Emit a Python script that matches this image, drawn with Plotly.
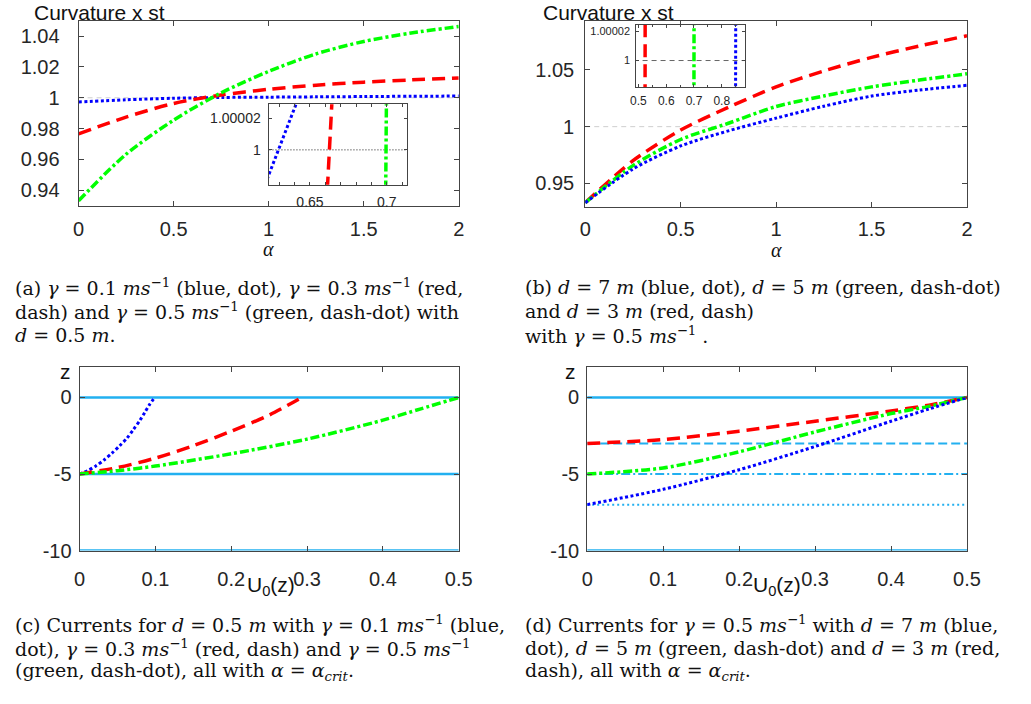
import plotly.graph_objects as go

W, H = 1031, 704

# ---------------- data ----------------
alpha = [0, 0.25, 0.5, 0.75, 1.0, 1.25, 1.5, 1.75, 2.0]
# panel (a): d = 0.5 m
a_blue = [0.9973, 0.9987, 0.9997, 1.0002, 1.0004, 1.0006, 1.0008, 1.0010, 1.0011]
a_red = [0.9766, 0.9875, 0.9963, 1.0018, 1.0055, 1.0082, 1.0101, 1.0116, 1.0128]
a_green = [0.9332, 0.9634, 0.9855, 1.0032, 1.0171, 1.0285, 1.0365, 1.0420, 1.0462]
# panel (b): gamma = 0.5
b_blue = [0.933, 0.9627, 0.9830, 0.9963, 1.0075, 1.0180, 1.0269, 1.0322, 1.0364]
b_green = [0.933, 0.9657, 0.9887, 1.0030, 1.0177, 1.0270, 1.0350, 1.0410, 1.0465]
b_red = [0.933, 0.9700, 0.9970, 1.0170, 1.0350, 1.0490, 1.0610, 1.0710, 1.0800]

# inset (a) zoom near the crossing of 1
ia_blue_x = [0.6195, 0.6430]
ia_blue_y = [0.999975, 1.000034]
ia_red_x = [0.6613, 0.6645]
ia_red_y = [0.999975, 1.000034]
ia_green_x = [0.6993, 0.6998]
ia_green_y = [0.999975, 1.000034]
# inset (b)
ib_red_x = [0.5238, 0.5242]
ib_green_x = [0.6998, 0.7002]
ib_blue_x = [0.8497, 0.8503]
ib_y = [0.999975, 1.000030]

# panel (c): currents, d = 0.5 m
c_blue_u = [0, 0.0108, 0.0215, 0.0323, 0.0431, 0.053, 0.0625, 0.0711, 0.0797, 0.0862, 0.0927, 0.0992]
c_blue_z = [-5, -4.78, -4.47, -4.08, -3.62, -3.15, -2.66, -2.09, -1.49, -0.96, -0.43, 0]
c_red_u = [0, 0.05, 0.1, 0.15, 0.2, 0.25, 0.293]
c_red_z = [-5, -4.58, -3.96, -3.15, -2.2, -1.15, 0]
c_green_u = [0, 0.05, 0.1, 0.2, 0.3, 0.4, 0.45, 0.5]
c_green_z = [-5, -4.78, -4.48, -3.68, -2.72, -1.48, -0.74, 0]
c_levels = [0, -5, -10]

# panel (d): currents, gamma = 0.5
d_u = [0, 0.1, 0.2, 0.3, 0.4, 0.45, 0.5]
d_red_z = [-3, -2.75, -2.2, -1.55, -0.88, -0.5, 0]
d_green_z = [-5, -4.6, -3.55, -2.25, -1.05, -0.58, 0]
d_blue_z = [-7, -6.0, -4.72, -3.2, -1.55, -0.75, 0]
d_solid_levels = [0, -10]
d_red_level = -3
d_green_level = -5
d_blue_level = -7

# ---------------- styles ----------------
BLUE = dict(color='#0000FF', width=3, dash='3px,2.5px')
RED = dict(color='#FF0000', width=3.5, dash='13px,7px')
GREEN = dict(color='#00FF00', width=3.5, dash='9px,3px,3px,3px')
LB = '#22B0F0'
AXC = '#444444'
TXT = '#262626'
SANS = 'Liberation Sans, Arial, sans-serif'
SERIF = 'Liberation Serif, Times New Roman, serif'
CAPF = 'DejaVu Serif, serif'


def dx(a, b):
    return [a / W, b / W]


def dy(top, bottom):
    return [1 - bottom / H, 1 - top / H]


fig = go.Figure()


def add(x, y, line, xa, ya, spline=True):
    fig.add_trace(go.Scatter(x=x, y=y, mode='lines', line=dict(line, shape='spline' if spline else 'linear', smoothing=0.8),
                             xaxis=xa, yaxis=ya, showlegend=False, hoverinfo='skip'))


# panel (a)
add([0, 2], [1, 1], dict(color='#cfcfcf', width=1, dash='5px,4px'), 'x', 'y', False)
add(alpha, a_blue, BLUE, 'x', 'y')
add(alpha, a_red, RED, 'x', 'y')
add(alpha, a_green, GREEN, 'x', 'y')
# panel (b)
add([0, 2], [1, 1], dict(color='#cfcfcf', width=1, dash='5px,4px'), 'x2', 'y2', False)
add(alpha, b_red, RED, 'x2', 'y2')
add(alpha, b_green, GREEN, 'x2', 'y2')
add(alpha, b_blue, BLUE, 'x2', 'y2')
# panel (c)
for lv in c_levels:
    add([0, 0.5], [lv, lv], dict(color=LB, width=2.5), 'x3', 'y3', False)
add(c_blue_u, c_blue_z, BLUE, 'x3', 'y3')
add(c_red_u, c_red_z, RED, 'x3', 'y3')
add(c_green_u, c_green_z, GREEN, 'x3', 'y3')
# panel (d)
for lv in d_solid_levels:
    add([0, 0.5], [lv, lv], dict(color=LB, width=2.5), 'x4', 'y4', False)
add([0, 0.5], [d_red_level] * 2, dict(color=LB, width=2, dash='9px,4px'), 'x4', 'y4', False)
add([0, 0.5], [d_green_level] * 2, dict(color=LB, width=2, dash='9px,3px,2px,3px'), 'x4', 'y4', False)
add([0, 0.5], [d_blue_level] * 2, dict(color=LB, width=2, dash='2px,3px'), 'x4', 'y4', False)
add(d_u, d_red_z, RED, 'x4', 'y4')
add(d_u, d_green_z, GREEN, 'x4', 'y4')
add(d_u, d_blue_z, BLUE, 'x4', 'y4')
# inset (a)
add([0.6, 0.72], [1, 1], dict(color='#666666', width=1, dash='1.5px,1.5px'), 'x5', 'y5', False)
add(ia_blue_x, ia_blue_y, BLUE, 'x5', 'y5', False)
add(ia_red_x, ia_red_y, RED, 'x5', 'y5', False)
add(ia_green_x, ia_green_y, GREEN, 'x5', 'y5', False)
# inset (b)
add([0.45, 0.9], [1, 1], dict(color='#666666', width=1, dash='5px,4px'), 'x6', 'y6', False)
add(ib_red_x, ib_y, RED, 'x6', 'y6', False)
add(ib_green_x, ib_y, GREEN, 'x6', 'y6', False)
add(ib_blue_x, ib_y, BLUE, 'x6', 'y6', False)


def ax(domain, rng, anchor, tickvals, ticktext, size=20, standoff=6, ticklen=5, minor=None):
    d = dict(domain=domain, range=rng, anchor=anchor, showgrid=False, zeroline=False,
             showline=True, linecolor=AXC, linewidth=1, mirror='ticks', ticks='inside',
             ticklen=ticklen, tickcolor=AXC, tickvals=tickvals, ticktext=ticktext,
             tickfont=dict(family=SANS, size=size, color=TXT), ticklabelstandoff=standoff,
             fixedrange=True)
    if minor:
        d['minor'] = minor
    return d


xa_vals = [0, 0.5, 1, 1.5, 2]
xa_text = ['0', '0.5', '1', '1.5', '2']
xc_vals = [0, 0.1, 0.2, 0.3, 0.4, 0.5]
xc_text = ['0', '0.1', '0.2', '0.3', '0.4', '0.5']

fig.update_layout(
    width=W, height=H, margin=dict(l=0, r=0, t=0, b=0),
    paper_bgcolor='white', plot_bgcolor='white', showlegend=False,
    xaxis=ax(dx(74, 461.7), [0, 2], 'y', xa_vals, xa_text, standoff=5),
    yaxis=ax(dy(21, 209), [0.93, 1.05], 'x', [0.94, 0.96, 0.98, 1.0, 1.02, 1.04],
             ['0.94', '0.96', '0.98', '1', '1.02', '1.04'], standoff=14),
    xaxis2=ax(dx(590.7, 980), [0, 2], 'y2', xa_vals, xa_text, standoff=4),
    yaxis2=ax(dy(21, 210.7), [0.9289, 1.0933], 'x2', [0.95, 1.0, 1.05], ['0.95', '1', '1.05'], standoff=6),
    xaxis3=ax(dx(75, 461.7), [0, 0.5], 'y3', xc_vals, xc_text, standoff=10),
    yaxis3=ax(dy(372.7, 559.3), [-10, 2], 'x3', [-10, -5, 0], ['-10', '-5', '0'], standoff=3),
    xaxis4=ax(dx(592.7, 980), [0, 0.5], 'y4', xc_vals, xc_text, standoff=10),
    yaxis4=ax(dy(372.7, 559.3), [-10, 2], 'x4', [-10, -5, 0], ['-10', '-5', '0'], standoff=3),
    xaxis5=ax(dx(267.7, 409.3), [0.623, 0.7134], 'y5',
              [0.63, 0.64, 0.65, 0.66, 0.67, 0.68, 0.69, 0.70, 0.71],
              ['', '', '0.65', '', '', '', '', '0.7', ''], size=14, standoff=4, ticklen=3),
    yaxis5=ax(dy(106, 187.7), [0.999978, 1.0000287], 'x5', [1.0, 1.00002], ['1', '1.00002'],
              size=14, standoff=4, ticklen=3),
    xaxis6=ax(dx(642.7, 754), [0.492, 0.885], 'y6', [0.5, 0.6, 0.7, 0.8], ['0.5', '0.6', '0.7', '0.8'],
              size=12, standoff=3, ticklen=3,
              minor=dict(tickvals=[0.55, 0.65, 0.75, 0.85], ticks='inside', ticklen=2, tickcolor=AXC)),
    yaxis6=ax(dy(25, 88.3), [0.999982, 1.0000245], 'x6', [1.0, 1.00002], ['1', '1.00002'],
              size=11, standoff=3, ticklen=3),
)

ann = []


def note(x, y, text, size, family, xanchor='left', yanchor='middle'):
    ann.append(dict(x=x / W, y=1 - y / H, xref='paper', yref='paper', text=text, showarrow=False,
                    xanchor=xanchor, yanchor=yanchor, font=dict(family=family, size=size, color='#111111')))


# axis labels
note(27, 13, 'Curvature x st', 21, SANS)
note(546, 13, 'Curvature x st', 21, SANS)
note(267.7, 253, '<i>α</i>', 20, SERIF, 'center')
note(785.3, 254, '<i>α</i>', 20, SERIF, 'center')
note(61, 377, 'z', 21, SANS, 'center')
note(576, 377, 'z', 21, SANS, 'center')
note(270, 595, 'U<sub>0</sub>(z)', 21, SANS, 'center')
note(786, 595, 'U<sub>0</sub>(z)', 21, SANS, 'center')

ms = '<i>ms</i><sup>−1</sup>'
g = '<i>γ</i>'
dd = '<i>d</i>'
acrit = '<i>α</i> = <i>α</i><sub><i>crit</i></sub>'
caps = [
    (7, 292, f'(a) {g} = 0.1 {ms} (blue, dot), {g} = 0.3 {ms} (red,'),
    (7, 316, f'dash) and {g} = 0.5 {ms} (green, dash-dot) with'),
    (7, 340, f'{dd} = 0.5 <i>m</i>.'),
    (527, 292, f'(b) {dd} = 7 <i>m</i> (blue, dot), {dd} = 5 <i>m</i> (green, dash-dot)'),
    (527, 316, f'and {dd} = 3 <i>m</i> (red, dash)'),
    (527, 340, f'with {g} = 0.5 {ms} .'),
    (7, 634, f'(c) Currents for {dd} = 0.5 <i>m</i> with {g} = 0.1 {ms} (blue,'),
    (7, 658, f'dot), {g} = 0.3 {ms} (red, dash) and {g} = 0.5 {ms}'),
    (7, 682, f'(green, dash-dot), all with {acrit}.'),
    (527, 634, f'(d) Currents for {g} = 0.5 {ms} with {dd} = 7 <i>m</i> (blue,'),
    (527, 658, f'dot), {dd} = 5 <i>m</i> (green, dash-dot) and {dd} = 3 <i>m</i> (red,'),
    (527, 682, f'dash), all with {acrit}.'),
]
for x, y, t in caps:
    note(x, y, t, 19, CAPF)

fig.update_layout(annotations=ann)
fig.write_html('out.html')
